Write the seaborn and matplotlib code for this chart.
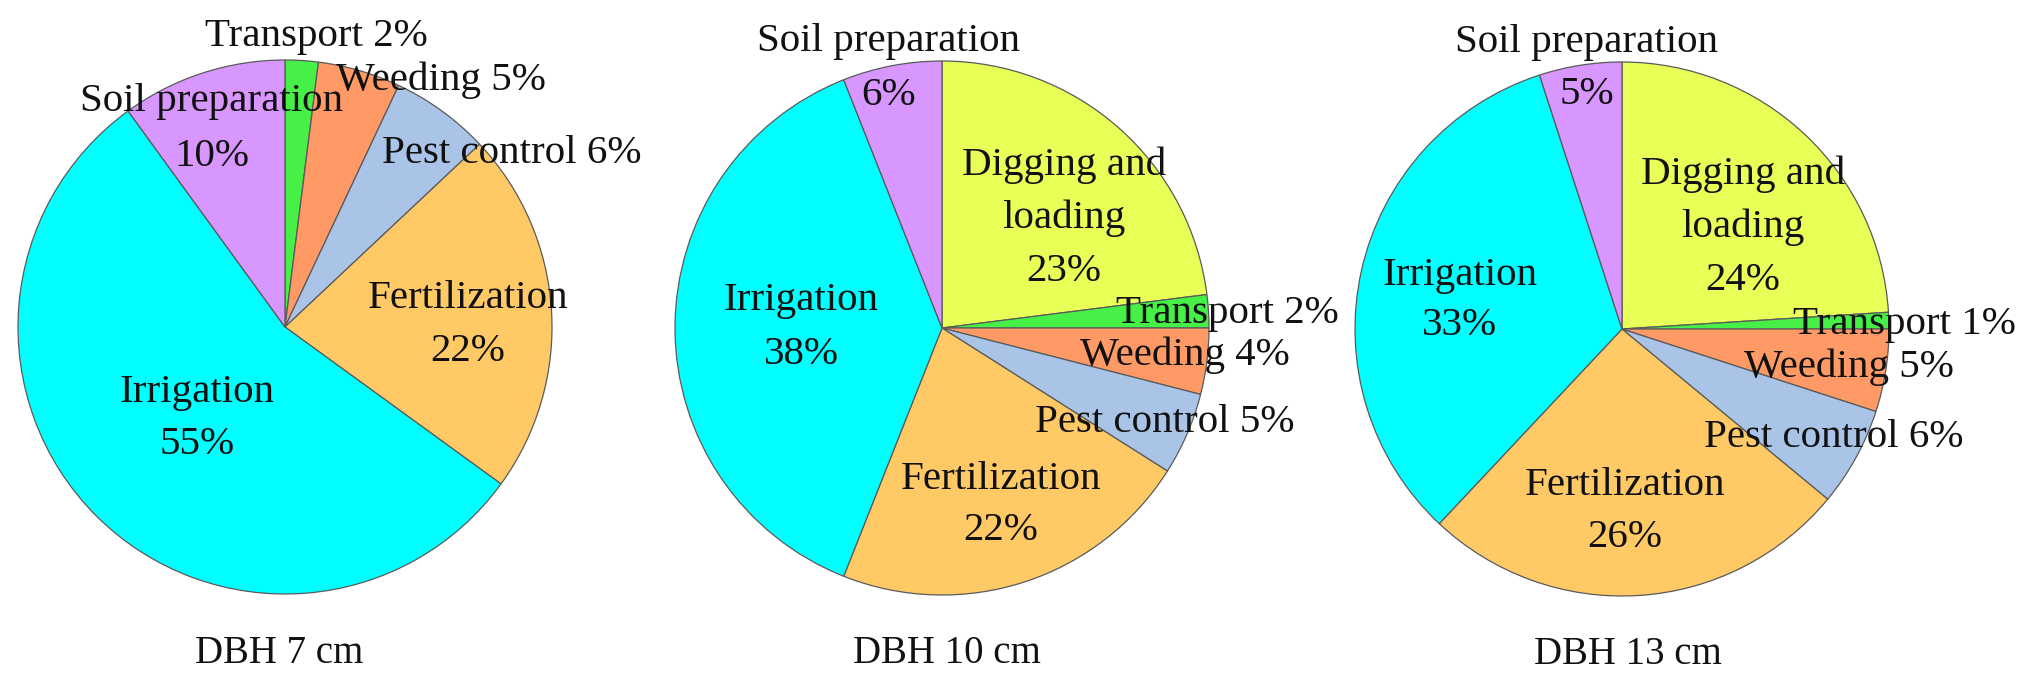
import matplotlib
matplotlib.use("Agg")
import matplotlib.pyplot as plt
import seaborn as sns

# ---------------- data ----------------
titles = ["DBH 7 cm", "DBH 10 cm", "DBH 13 cm"]

categories_7 = ["Transport", "Weeding", "Pest control", "Fertilization",
                "Irrigation", "Soil preparation"]
values_7 = [2, 5, 6, 22, 55, 10]

categories_10 = ["Digging and loading", "Transport", "Weeding", "Pest control",
                 "Fertilization", "Irrigation", "Soil preparation"]
values_10 = [23, 2, 4, 5, 22, 38, 6]

categories_13 = ["Digging and loading", "Transport", "Weeding", "Pest control",
                 "Fertilization", "Irrigation", "Soil preparation"]
values_13 = [24, 1, 5, 6, 26, 33, 5]

# ---------------- style ----------------
sns.set_theme(style="white")
plt.rcParams["font.family"] = ["Liberation Serif", "DejaVu Serif"]

COLORS = {
    "Digging and loading": "#E8FF58",
    "Transport": "#47F047",
    "Weeding": "#FF9A66",
    "Pest control": "#A9C4E6",
    "Fertilization": "#FFC966",
    "Irrigation": "#00FFFF",
    "Soil preparation": "#D896FF",
}

W, H = 2027, 682
DPI = 100
R = 267
CENTERS = [(285, 327), (942, 328), (1622, 329)]
TITLE_POS = [(279, 650), (947, 650), (1628, 651)]
FS = 29.5
CAP = 26  # cap height in px (for baseline placement)

# label layout: (x, y of first line cap centre in px, mode, line spacing)
# mode "inline": "Name N%"; "stack": "Name" / "N%"; "wrap": "Digging and" / "loading" / "N%"
LAYOUT = [
    {
        "Transport": (316, 33, "inline", 0),
        "Weeding": (441, 77, "inline", 0),
        "Pest control": (512, 150, "inline", 0),
        "Fertilization": (468, 295, "stack", 53),
        "Irrigation": (197, 389, "stack", 52),
        "Soil preparation": (212, 98, "stack", 55),
    },
    {
        "Digging and loading": (1064, 162, "wrap", 53),
        "Transport": (1227, 310, "inline", 0),
        "Weeding": (1185, 352, "inline", 0),
        "Pest control": (1165, 419, "inline", 0),
        "Fertilization": (1001, 476, "stack", 51),
        "Irrigation": (801, 297, "stack", 54),
        "Soil preparation": (889, 38, "stack", 54),
    },
    {
        "Digging and loading": (1743, 171, "wrap", 53),
        "Transport": (1904, 321, "inline", 0),
        "Weeding": (1849, 364, "inline", 0),
        "Pest control": (1834, 434, "inline", 0),
        "Fertilization": (1625, 482, "stack", 52),
        "Irrigation": (1460, 272, "stack", 50),
        "Soil preparation": (1587, 39, "stack", 52),
    },
]

fig = plt.figure(figsize=(W / DPI, H / DPI), dpi=DPI)
fig.patch.set_facecolor("white")


def ftext(px, py_capcenter, s, size=FS):
    baseline = py_capcenter + CAP / 2
    fig.text(px / W, 1 - baseline / H, s, ha="center", va="baseline",
             fontsize=size, color="#111111")


datasets = [(categories_7, values_7), (categories_10, values_10),
            (categories_13, values_13)]

for i, (cats, vals) in enumerate(datasets):
    cx, cy = CENTERS[i]
    ax = fig.add_axes([(cx - R) / W, (H - cy - R) / H, 2 * R / W, 2 * R / H])
    palette = sns.color_palette([COLORS[c] for c in cats])
    ax.pie(vals, colors=palette, startangle=90, counterclock=False,
           radius=1.0,
           wedgeprops=dict(edgecolor="#5a5a5a", linewidth=0.9))
    ax.set_xlim(-1.0, 1.0)
    ax.set_ylim(-1.0, 1.0)
    ax.set_aspect("equal")
    ax.axis("off")

    for c, v in zip(cats, vals):
        x, y, mode, sp = LAYOUT[i][c]
        if mode == "inline":
            lines = [f"{c} {v}%"]
        elif mode == "wrap":
            head, tail = c.split(" and ")
            lines = [f"{head} and", tail, f"{v}%"]
        else:
            lines = [c, f"{v}%"]
        for k, line in enumerate(lines):
            ftext(x, y + k * sp, line)

    tx, ty = TITLE_POS[i]
    ftext(tx, ty, titles[i], size=28)

fig.savefig("out.png", dpi=DPI, facecolor="white")
